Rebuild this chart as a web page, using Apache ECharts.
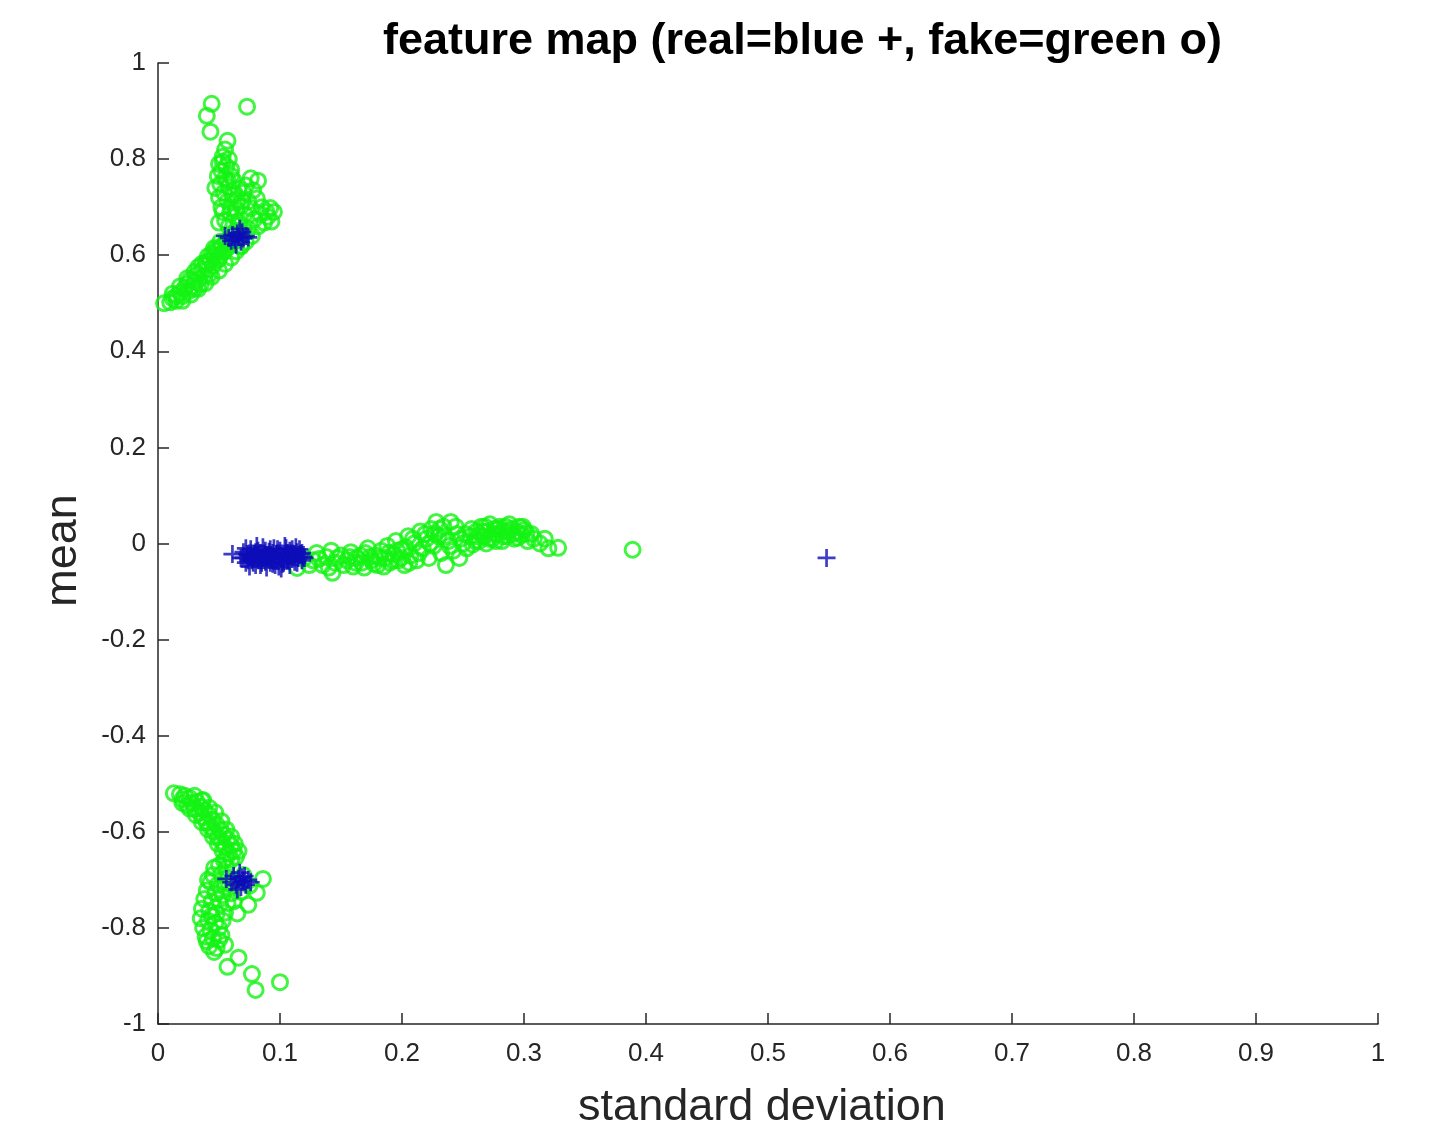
<!DOCTYPE html>
<html>
<head>
<meta charset="utf-8">
<script src="https://cdn.jsdelivr.net/npm/echarts@6/dist/echarts.min.js"></script>
<style>
  html, body { margin: 0; padding: 0; background: #ffffff; }
  #chart { width: 1435px; height: 1138px; }
</style>
</head>
<body>
<div id="chart"></div>
<script>
// Axis ticks
const xTicks = [0, 0.1, 0.2, 0.3, 0.4, 0.5, 0.6, 0.7, 0.8, 0.9, 1];
const yTicks = [-1, -0.8, -0.6, -0.4, -0.2, 0, 0.2, 0.4, 0.6, 0.8, 1];

// fake samples (green o): [standard deviation, mean]
const fakeUpper = [
  [0.005,0.500],[0.010,0.502],[0.015,0.505],[0.012,0.510],[0.020,0.515],[0.018,0.522],[0.025,0.525],
  [0.022,0.532],[0.028,0.535],[0.030,0.545],[0.026,0.548],[0.034,0.550],[0.032,0.560],[0.038,0.558],
  [0.036,0.568],[0.041,0.570],[0.040,0.580],[0.045,0.578],[0.043,0.590],[0.048,0.588],[0.046,0.598],
  [0.051,0.600],[0.049,0.610],[0.054,0.607],[0.052,0.618],[0.057,0.615],[0.055,0.625],[0.060,0.622],
  [0.058,0.633],[0.063,0.630],[0.062,0.642],[0.067,0.638],[0.033,0.575],[0.039,0.585],[0.044,0.603],
  [0.050,0.592],[0.056,0.630],[0.047,0.612],[0.030,0.530],[0.024,0.540],
  [0.020,0.505],[0.027,0.518],[0.033,0.530],[0.039,0.542],[0.044,0.555],[0.050,0.568],[0.055,0.582],
  [0.060,0.595],[0.064,0.608],[0.068,0.618],[0.012,0.520],[0.018,0.535],[0.024,0.552],[0.030,0.565],
  [0.036,0.582],[0.041,0.598],[0.046,0.615],[0.051,0.628],[0.015,0.515],[0.035,0.540],[0.042,0.560],
  [0.044,0.915],[0.073,0.909],[0.040,0.890],[0.043,0.857],[0.057,0.838],[0.055,0.820],[0.053,0.805],
  [0.058,0.800],[0.050,0.790],[0.056,0.785],[0.052,0.775],[0.060,0.778],[0.049,0.765],[0.055,0.760],
  [0.062,0.755],[0.051,0.748],[0.058,0.742],[0.082,0.755],[0.076,0.760],[0.072,0.745],[0.066,0.738],
  [0.054,0.730],[0.061,0.725],[0.070,0.730],[0.078,0.735],[0.050,0.720],[0.057,0.712],[0.065,0.715],
  [0.074,0.712],[0.081,0.718],[0.052,0.700],[0.060,0.698],[0.068,0.702],[0.076,0.698],[0.085,0.700],
  [0.092,0.698],[0.095,0.690],[0.090,0.680],[0.093,0.670],[0.087,0.668],[0.079,0.675],[0.071,0.685],
  [0.063,0.680],[0.055,0.672],[0.050,0.668],[0.058,0.660],[0.067,0.662],[0.074,0.655],[0.082,0.660],
  [0.070,0.645],[0.077,0.640],[0.064,0.650],[0.068,0.620],[0.072,0.628],
  [0.053,0.690],[0.059,0.688],[0.064,0.695],[0.069,0.712],[0.063,0.728],[0.057,0.755],[0.053,0.795],
  [0.060,0.765],[0.047,0.740],[0.066,0.670],[0.084,0.685],[0.089,0.690]
];
const fakeMiddle = [
  [0.114,-0.051],[0.127,-0.035],[0.130,-0.020],[0.135,-0.045],[0.138,-0.028],[0.142,-0.015],[0.145,-0.040],
  [0.143,-0.061],[0.150,-0.025],[0.155,-0.035],[0.158,-0.018],[0.160,-0.048],[0.163,-0.030],[0.167,-0.040],
  [0.170,-0.020],[0.172,-0.010],[0.175,-0.035],[0.178,-0.025],[0.180,-0.045],[0.183,-0.015],[0.186,-0.030],
  [0.188,-0.005],[0.190,-0.040],[0.193,-0.022],[0.195,0.005],[0.197,-0.035],[0.200,-0.012],[0.202,-0.045],
  [0.205,0.015],[0.207,-0.025],[0.210,0.000],[0.212,-0.035],[0.215,0.025],[0.217,-0.010],[0.220,0.010],
  [0.222,-0.030],[0.224,0.030],[0.226,-0.005],[0.228,0.045],[0.230,0.015],[0.232,-0.020],[0.234,0.035],
  [0.236,-0.045],[0.238,0.005],[0.240,0.045],[0.242,-0.015],[0.245,0.020],[0.247,-0.030],[0.250,0.000],
  [0.253,-0.010],[0.256,0.015],[0.258,-0.002],[0.261,0.025],[0.263,0.005],[0.265,0.035],[0.267,0.015],
  [0.269,0.000],[0.270,0.025],[0.272,0.040],[0.274,0.010],[0.276,0.030],[0.278,0.020],[0.280,0.035],
  [0.282,0.005],[0.284,0.025],[0.286,0.015],[0.288,0.040],[0.290,0.030],[0.292,0.010],[0.294,0.025],
  [0.296,0.035],[0.298,0.018],[0.300,0.028],[0.303,0.005],[0.306,0.020],[0.313,0.000],[0.317,0.010],
  [0.320,-0.010],[0.328,-0.009],[0.389,-0.013],
  [0.120,-0.030],[0.124,-0.045],[0.132,-0.032],[0.140,-0.050],[0.147,-0.030],[0.152,-0.045],[0.157,-0.028],
  [0.162,-0.040],[0.166,-0.025],[0.169,-0.050],[0.174,-0.028],[0.177,-0.042],[0.182,-0.030],[0.185,-0.048],
  [0.189,-0.020],[0.192,-0.035],[0.196,-0.015],[0.199,-0.030],[0.203,-0.008],[0.206,-0.040],[0.209,0.010],
  [0.214,-0.020],[0.219,0.020],[0.223,0.000],[0.227,0.020],[0.231,0.030],[0.235,0.015],[0.239,-0.005],
  [0.244,0.035],[0.248,0.010],[0.252,0.020],[0.257,0.030],[0.262,0.015],[0.266,0.025],[0.271,0.010],
  [0.275,0.020],[0.279,0.030],[0.283,0.015],[0.287,0.025],[0.291,0.020],[0.295,0.012],[0.299,0.035],
  [0.302,0.022],[0.268,0.035],[0.285,0.035],[0.277,0.005],[0.260,0.005],[0.308,0.010]
];
const fakeLower = [
  [0.013,-0.520],[0.018,-0.522],[0.022,-0.525],[0.020,-0.532],[0.026,-0.530],[0.028,-0.540],[0.024,-0.545],
  [0.032,-0.538],[0.030,-0.552],[0.035,-0.548],[0.034,-0.560],[0.038,-0.555],[0.037,-0.570],[0.042,-0.565],
  [0.040,-0.580],[0.045,-0.575],[0.043,-0.590],[0.048,-0.585],[0.046,-0.600],[0.051,-0.595],[0.049,-0.610],
  [0.054,-0.606],[0.052,-0.620],[0.057,-0.616],[0.055,-0.632],[0.060,-0.628],[0.058,-0.645],[0.062,-0.640],
  [0.060,-0.658],[0.064,-0.652],[0.037,-0.534],
  [0.020,-0.540],[0.026,-0.552],[0.031,-0.565],[0.036,-0.580],[0.041,-0.595],[0.045,-0.610],[0.049,-0.625],
  [0.053,-0.640],[0.056,-0.655],[0.030,-0.525],[0.036,-0.535],[0.042,-0.550],[0.047,-0.560],[0.052,-0.578],
  [0.056,-0.595],[0.060,-0.610],[0.063,-0.625],[0.066,-0.640],[0.054,-0.660],[0.046,-0.675],[0.041,-0.700],
  [0.058,-0.708],[0.044,-0.775],[0.050,-0.825],[0.040,-0.828],
  [0.050,-0.670],[0.056,-0.675],[0.045,-0.690],[0.052,-0.688],[0.058,-0.695],[0.043,-0.705],[0.049,-0.710],
  [0.055,-0.715],[0.040,-0.722],[0.047,-0.728],[0.053,-0.732],[0.060,-0.728],[0.038,-0.740],[0.044,-0.745],
  [0.051,-0.750],[0.057,-0.748],[0.036,-0.760],[0.042,-0.765],[0.048,-0.770],[0.055,-0.768],[0.035,-0.780],
  [0.041,-0.785],[0.047,-0.790],[0.053,-0.785],[0.037,-0.800],[0.043,-0.805],[0.050,-0.800],[0.039,-0.818],
  [0.045,-0.822],[0.052,-0.815],[0.042,-0.838],[0.048,-0.842],[0.055,-0.835],[0.046,-0.850],
  [0.057,-0.881],[0.066,-0.862],[0.077,-0.896],[0.080,-0.929],[0.100,-0.913],[0.086,-0.698],[0.081,-0.727],
  [0.074,-0.752],[0.065,-0.770],[0.062,-0.745],[0.068,-0.725],[0.075,-0.712],[0.070,-0.690]
];

// real samples (blue +): [standard deviation, mean]
const realUpper = [
  [0.055,0.640],[0.058,0.636],[0.061,0.642],[0.063,0.632],[0.065,0.645],[0.066,0.638],[0.068,0.628],
  [0.069,0.648],[0.070,0.635],[0.072,0.640],[0.074,0.637],[0.064,0.622],[0.067,0.655],[0.060,0.630]
];
const realMiddle = [
  [0.061,-0.022],[0.068,-0.030],[0.070,-0.018],[0.072,-0.040],[0.074,-0.025],[0.076,-0.012],[0.077,-0.035],
  [0.079,-0.022],[0.080,-0.045],[0.082,-0.015],[0.083,-0.030],[0.085,-0.040],[0.086,-0.008],[0.087,-0.024],
  [0.089,-0.050],[0.090,-0.033],[0.091,-0.017],[0.093,-0.028],[0.094,-0.042],[0.095,-0.010],[0.097,-0.022],
  [0.098,-0.036],[0.099,-0.048],[0.100,-0.015],[0.102,-0.028],[0.103,-0.040],[0.104,-0.005],[0.106,-0.020],
  [0.107,-0.032],[0.108,-0.045],[0.110,-0.012],[0.111,-0.026],[0.112,-0.038],[0.114,-0.018],[0.115,-0.030],
  [0.117,-0.022],[0.119,-0.028],[0.075,-0.048],[0.081,-0.005],[0.088,-0.038],[0.096,-0.030],[0.101,-0.052],
  [0.105,-0.010],[0.109,-0.024],[0.113,-0.008],[0.118,-0.035],[0.084,-0.020],[0.092,-0.012],[0.078,-0.028],
  [0.073,-0.022],
  [0.070,-0.030],[0.072,-0.010],[0.074,-0.035],[0.076,-0.025],[0.078,-0.040],[0.080,-0.018],[0.082,-0.035],
  [0.084,-0.045],[0.086,-0.030],[0.088,-0.015],[0.090,-0.025],[0.092,-0.040],[0.094,-0.020],[0.096,-0.045],
  [0.098,-0.012],[0.100,-0.030],[0.102,-0.042],[0.104,-0.022],[0.106,-0.035],[0.108,-0.015],[0.110,-0.032],
  [0.112,-0.022],[0.114,-0.040],[0.116,-0.012],[0.118,-0.020],[0.120,-0.030],
  [0.548,-0.030]
];
const realLower = [
  [0.056,-0.698],[0.060,-0.705],[0.062,-0.692],[0.064,-0.710],[0.066,-0.698],[0.067,-0.685],[0.068,-0.715],
  [0.070,-0.703],[0.071,-0.692],[0.072,-0.710],[0.074,-0.700],[0.076,-0.705],[0.065,-0.720],[0.069,-0.695]
];

const GREEN = '#14f214';
const BLUE = '#0d0db8';
const AXIS = '#262626';
const FONT = '"Liberation Sans", Arial, Helvetica, sans-serif';
const PLUS = 'path://M6.8,0H9.2V16H6.8Z M0,6.8H16V9.2H0Z';

const fakeAll = fakeUpper.concat(fakeMiddle, fakeLower);
const realAll = realUpper.concat(realMiddle, realLower);

const chart = echarts.init(document.getElementById('chart'), null, { renderer: 'canvas' });

const axisCommon = {
  axisLine: { show: true, onZero: false, lineStyle: { color: AXIS, width: 1.5 } },
  axisTick: { show: true, inside: true, length: 11, lineStyle: { color: AXIS, width: 1.5 } },
  splitLine: { show: false },
  axisLabel: { color: AXIS, fontSize: 26, fontFamily: FONT },
  nameTextStyle: { color: AXIS, fontSize: 45, fontFamily: FONT }
};

chart.setOption({
  backgroundColor: '#ffffff',
  animation: false,
  graphic: [{
    type: 'text',
    left: 383,
    top: 19,
    style: {
      text: 'feature map (real=blue +, fake=green o)',
      fill: '#000000',
      font: 'bold 45px ' + FONT
    }
  }],
  grid: { left: 158, right: 57, top: 63, bottom: 114, containLabel: false },
  xAxis: Object.assign({}, axisCommon, {
    type: 'value',
    min: 0, max: 1, interval: 0.1,
    name: 'standard deviation',
    nameLocation: 'middle',
    nameGap: 61,
    nameTextStyle: Object.assign({}, axisCommon.nameTextStyle, { padding: [0, 12, 0, 0] }),
    axisLabel: Object.assign({}, axisCommon.axisLabel, {
      margin: 17,
      customValues: xTicks,
      formatter: v => String(Math.round(v * 10) / 10)
    }),
    axisTick: Object.assign({}, axisCommon.axisTick, { customValues: xTicks })
  }),
  yAxis: Object.assign({}, axisCommon, {
    type: 'value',
    min: -1, max: 1, interval: 0.2,
    name: 'mean',
    nameLocation: 'middle',
    nameGap: 72,
    nameRotate: 90,
    nameTextStyle: Object.assign({}, axisCommon.nameTextStyle, { padding: [0, 14, 0, 0] }),
    axisLabel: Object.assign({}, axisCommon.axisLabel, {
      margin: 12,
      customValues: yTicks,
      formatter: v => String(Math.round(v * 10) / 10)
    }),
    axisTick: Object.assign({}, axisCommon.axisTick, { customValues: yTicks })
  }),
  series: [
    {
      name: 'fake',
      type: 'scatter',
      data: fakeAll,
      symbol: 'circle',
      symbolSize: 15,
      itemStyle: { color: 'rgba(0,0,0,0)', borderColor: GREEN, borderWidth: 3 },
      emphasis: { disabled: true },
      z: 2
    },
    {
      name: 'real',
      type: 'scatter',
      data: realAll,
      symbol: PLUS,
      symbolSize: 18,
      itemStyle: { color: BLUE },
      emphasis: { disabled: true },
      z: 3
    }
  ]
});
</script>
</body>
</html>
